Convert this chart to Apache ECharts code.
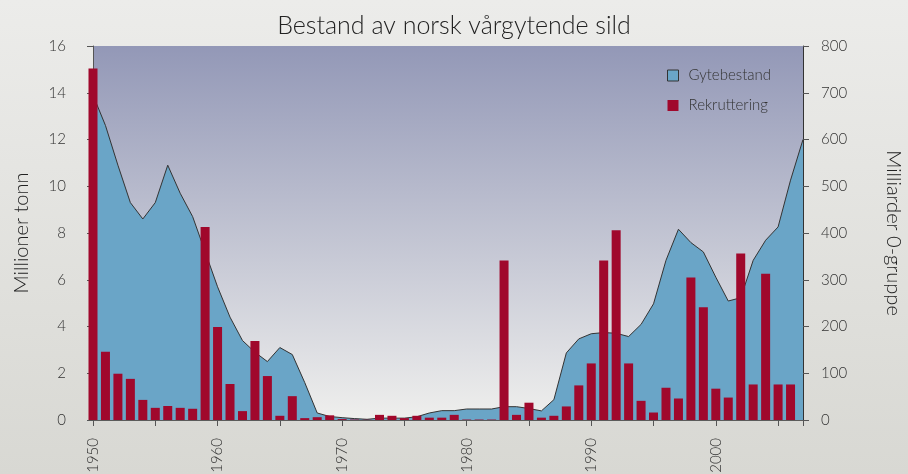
<!DOCTYPE html>
<html>
<head>
<meta charset="utf-8">
<script src="https://cdn.jsdelivr.net/npm/echarts@6/dist/echarts.min.js"></script>
<style>html,body{margin:0;padding:0;}#c{width:908px;height:474px;}</style>
</head>
<body>
<div id="c"></div>
<script>
const stockYears = [1950,1951,1952,1953,1954,1955,1956,1957,1958,1959,1960,1961,1962,1963,1964,1965,1966,1967,1968,1969,1970,1971,1972,1973,1974,1975,1976,1977,1978,1979,1980,1981,1982,1983,1984,1985,1986,1987,1988,1989,1990,1991,1992,1993,1994,1995,1996,1997,1998,1999,2000,2001,2002,2003,2004,2005,2006,2007];
const stockValues = [13.9,12.6,10.9,9.3,8.6,9.3,10.9,9.7,8.7,7.2,5.7,4.4,3.4,2.9,2.5,3.1,2.8,1.6,0.3,0.15,0.1,0.06,0.03,0.08,0.08,0.08,0.14,0.3,0.4,0.4,0.47,0.47,0.47,0.57,0.57,0.49,0.39,0.87,2.87,3.47,3.69,3.74,3.71,3.57,4.09,4.97,6.83,8.16,7.59,7.19,6.11,5.09,5.23,6.83,7.69,8.26,10.26,12.0];
const recruitYears = [1950,1951,1952,1953,1954,1955,1956,1957,1958,1959,1960,1961,1962,1963,1964,1965,1966,1967,1968,1969,1970,1971,1972,1973,1974,1975,1976,1977,1978,1979,1980,1981,1982,1983,1984,1985,1986,1987,1988,1989,1990,1991,1992,1993,1994,1995,1996,1997,1998,1999,2000,2001,2002,2003,2004,2005,2006];
const recruitValues = [752,146,99,88,43,26,30,26,24,413,199,77,19,169,94,9,51,4,6,10,2,1,0.5,11,9,4,9,5,5,11,1,1,1,341,11,37,5,9,29,74,121,341,406,121,41,16,69,46,305,241,67,48,356,76,313,76,76];
const leftTicks = [0,2,4,6,8,10,12,14,16];
const rightTicks = [0,100,200,300,400,500,600,700,800];

const FONT = 'Lato';
const chart = echarts.init(document.getElementById('c'));
chart.setOption({
  animation: false,
  backgroundColor: new echarts.graphic.LinearGradient(0,0,0,1,[{offset:0,color:'#ececea'},{offset:1,color:'#d8d8d3'}]),
  title: {
    text: 'Bestand av norsk vårgytende sild',
    left: 'center', top: 8,
    textStyle: {fontFamily: FONT, fontWeight: 300, fontSize: 25, color: '#222'}
  },
  legend: {
    orient: 'vertical', left: 667, top: 68, padding: 0,
    itemWidth: 11, itemHeight: 11, itemGap: 15,
    textStyle: {fontFamily: FONT, fontWeight: 300, fontSize: 15, color: '#333', padding: [0, 0, 0, 5]},
    data: [
      {name: 'Gytebestand', icon: 'rect', itemStyle: {color: '#6aa5c7', borderColor: '#333', borderWidth: 1}},
      {name: 'Rekruttering', icon: 'rect', itemStyle: {color: '#a0082c', borderWidth: 0}}
    ]
  },
  grid: {
    left: 93, right: 105, top: 46, bottom: 54, show: true, borderWidth: 0,
    outerBoundsMode: 'none', containLabel: false,
    backgroundColor: new echarts.graphic.LinearGradient(0,0,0,1,[{offset:0,color:'#9398b7'},{offset:1,color:'#efefed'}])
  },
  xAxis: {
    type: 'value', min: 1950, max: 2007, interval: 5,
    splitLine: {show: false},
    axisLine: {lineStyle: {color: '#333', width: 1.5}},
    axisTick: {length: 6, lineStyle: {color: '#555'}},
    axisLabel: {
      rotate: 90, margin: 18, fontFamily: FONT, fontWeight: 300, fontSize: 15, color: '#333',
      formatter: v => (v % 10 === 0 ? String(v) : '')
    }
  },
  yAxis: [
    {
      type: 'value', min: 0, max: 16, interval: 2,
      name: 'Millioner tonn', nameLocation: 'middle', nameGap: 61,
      nameTextStyle: {fontFamily: FONT, fontWeight: 300, fontSize: 20, color: '#222'},
      splitLine: {show: false},
      axisLine: {show: true, lineStyle: {color: '#555'}},
      axisTick: {show: true, length: 6, lineStyle: {color: '#555'}},
      axisLabel: {margin: 27, fontFamily: FONT, fontWeight: 300, fontSize: 15, color: '#333',
        formatter: v => (leftTicks.includes(v) ? String(v) : '')}
    },
    {
      type: 'value', min: 0, max: 800, interval: 100, position: 'right',
      name: 'Milliarder 0-gruppe', nameLocation: 'middle', nameGap: 80, nameRotate: -90,
      nameTextStyle: {fontFamily: FONT, fontWeight: 300, fontSize: 20, color: '#222'},
      splitLine: {show: false},
      axisLine: {show: true, lineStyle: {color: '#333'}},
      axisTick: {show: true, length: 6, lineStyle: {color: '#555'}},
      axisLabel: {margin: 18, fontFamily: FONT, fontWeight: 300, fontSize: 15, color: '#333',
        formatter: v => (rightTicks.includes(v) ? String(v) : '')}
    }
  ],
  series: [
    {
      name: 'Gytebestand', type: 'line', yAxisIndex: 0, z: 2,
      symbol: 'none',
      data: stockYears.map((y, i) => [y, stockValues[i]]),
      lineStyle: {color: '#333', width: 1},
      itemStyle: {color: '#6aa5c7'},
      areaStyle: {color: '#6aa5c7', opacity: 1}
    },
    {
      name: 'Rekruttering', type: 'bar', yAxisIndex: 1, z: 3,
      barWidth: 9,
      data: recruitYears.map((y, i) => [y, recruitValues[i]]),
      itemStyle: {color: '#a0082c'}
    }
  ]
});
</script>
</body>
</html>
